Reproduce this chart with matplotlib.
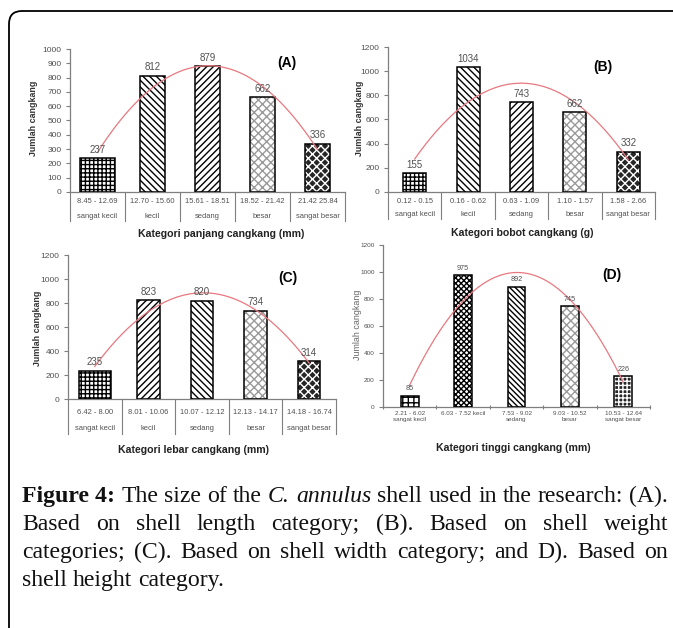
import numpy as np
import matplotlib
matplotlib.use("Agg")
import matplotlib.pyplot as plt
from matplotlib.path import Path
from matplotlib.patches import PathPatch

# ---------------- data ----------------
categories = ["sangat kecil", "kecil", "sedang", "besar", "sangat besar"]

ranges_A = ["8.45 - 12.69", "12.70 - 15.60", "15.61 - 18.51", "18.52 - 21.42", "21.42 25.84"]
counts_A = [237, 812, 879, 662, 336]

ranges_B = ["0.12 - 0.15", "0.16 - 0.62", "0.63 - 1.09", "1.10 - 1.57", "1.58 - 2.66"]
counts_B = [155, 1034, 743, 662, 332]

ranges_C = ["6.42 - 8.00", "8.01 - 10.06", "10.07 - 12.12", "12.13 - 14.17", "14.18 - 16.74"]
counts_C = [235, 823, 820, 734, 314]

ranges_D = ["2.21 - 6.02", "6.03 - 7.52", "7.53 - 9.02", "9.03 - 10.52", "10.53 - 12.64"]
counts_D = [85, 975, 892, 745, 226]

xlabel_A = "Kategori panjang cangkang (mm)"
xlabel_B = "Kategori bobot cangkang (g)"
xlabel_C = "Kategori lebar cangkang (mm)"
xlabel_D = "Kategori tinggi cangkang (mm)"
ylabel = "Jumlah cangkang"

caption_lines = [
    [("Figure 4:", "b"), ("The", "n"), ("size", "n"), ("of", "n"), ("the", "n"), ("C.", "i"),
     ("annulus", "i"), ("shell", "n"), ("used", "n"), ("in", "n"), ("the", "n"),
     ("research:", "n"), ("(A).", "n")],
    [(w, "n") for w in "Based on shell length category; (B). Based on shell weight".split()],
    [(w, "n") for w in "categories; (C). Based on shell width category; and D). Based on".split()],
    [(w, "n") for w in "shell height category.".split()],
]

# ---------------- layout ----------------
W, H = 673, 628
fig = plt.figure(figsize=(W / 100, H / 100), dpi=100)
fig.patch.set_facecolor("white")
plt.rcParams["font.family"] = ["Liberation Sans", "DejaVu Sans"]
plt.rcParams["hatch.linewidth"] = 1.0


def px_rect(l, t, r, b):
    return [l / W, 1 - b / H, (r - l) / W, (b - t) / H]


def fx(x):
    return x / W


def fy(y):
    return 1 - y / H


AX_GRAY = "#7f7f7f"
TXT_GRAY = "#505050"
CURVE = "#e8787f"


def hatched_bar(ax, x, h, w, hatch, hcolor, face):
    ax.bar(x, h, w, color=face, edgecolor=hcolor, hatch=hatch, linewidth=0, zorder=2)
    ax.bar(x, h, w, fill=False, edgecolor="black", linewidth=1.1, zorder=3)


def panel(rect_px, counts, ranges, ymax, ystep, widths, hatches, hcolors, faces,
          title, title_xy, xlabel, xlabel_xy, ylabel_xy, table=True,
          row_off=(10, 25), line_off=29, tick_fs=6, val_fs=7, ylab_bold=True):
    l, t, r, b = rect_px
    ax = fig.add_axes(px_rect(l, t, r, b))
    hpx = b - t
    n = len(counts)
    x = np.arange(n)
    for i in range(n):
        hatched_bar(ax, x[i], counts[i], widths[i], hatches[i], hcolors[i], faces[i])
        ax.annotate(str(counts[i]), (x[i], counts[i]), xytext=(0, 2.5),
                    textcoords="offset points", ha="center", va="bottom",
                    fontsize=val_fs, color=TXT_GRAY, zorder=5)
    # polynomial trend line (order 2), as in the source chart
    coef = np.polyfit(x, counts, 2)
    xs = np.linspace(0, n - 1, 200)
    ax.plot(xs, np.polyval(coef, xs), color=CURVE, lw=0.9, zorder=4)

    ax.set_xlim(-0.5, n - 0.5)
    ax.set_ylim(0, ymax)
    ax.set_yticks(np.arange(0, ymax + 1, ystep))
    for s in ["top", "right"]:
        ax.spines[s].set_visible(False)
    for s in ["left", "bottom"]:
        ax.spines[s].set_color(AX_GRAY)
        ax.spines[s].set_linewidth(0.9)
    ax.tick_params(axis="y", length=3, width=0.8, color=AX_GRAY,
                   labelsize=tick_fs, labelcolor=TXT_GRAY, pad=3)
    ax.set_facecolor("none")

    tr = ax.get_xaxis_transform()
    if table:
        ax.set_xticks([])
        for i in range(n):
            ax.text(x[i], -row_off[0] / hpx, ranges[i], transform=tr, ha="center",
                    va="center", fontsize=5.4, color=TXT_GRAY, clip_on=False)
            ax.text(x[i], -row_off[1] / hpx, categories[i], transform=tr, ha="center",
                    va="center", fontsize=5.4, color=TXT_GRAY, clip_on=False)
        for xb in np.arange(-0.5, n, 1.0):
            ax.plot([xb, xb], [0, -line_off / hpx], transform=tr, color=AX_GRAY,
                    lw=0.8, clip_on=False)
    else:
        ax.set_xticks(np.arange(-0.5, n, 1.0))
        ax.set_xticklabels([])
        ax.tick_params(axis="x", length=3, width=0.8, color=AX_GRAY, direction="inout")
        labs = [ranges[0] + "\n" + categories[0], ranges[1] + " " + categories[1]] + \
               [ranges[i] + "\n" + categories[i] for i in range(2, n)]
        for i in range(n):
            ax.text(x[i], -4 / hpx, labs[i], transform=tr, ha="center", va="top",
                    fontsize=4.5, color=TXT_GRAY, clip_on=False, linespacing=1.3)

    fig.text(fx(title_xy[0]), fy(title_xy[1]), title, ha="center", va="center",
             fontsize=10, fontweight="bold")
    fig.text(fx(xlabel_xy[0]), fy(xlabel_xy[1]), xlabel, ha="center", va="center",
             fontsize=7.6, fontweight="bold", color="#222222")
    fig.text(fx(ylabel_xy[0]), fy(ylabel_xy[1]), ylabel, ha="center", va="center",
             rotation=90, fontsize=6.4, fontweight="bold" if ylab_bold else "normal",
             color="#333333" if ylab_bold else "#666666")
    return ax


std_hatch = ["++++", "\\\\\\\\\\", "/////", "xxxx", "xxxx"]
std_hcol = ["black", "black", "black", "#9a9a9a", "white"]
std_face = ["white", "white", "white", "white", "#262626"]

panel((70, 49, 345, 192), counts_A, ranges_A, 1000, 100,
      [0.64, 0.44, 0.44, 0.44, 0.44], std_hatch, std_hcol, std_face,
      "(A)", (287, 63), xlabel_A, (221, 234), (33, 118))

panel((388, 47, 655, 192), counts_B, ranges_B, 1200, 200,
      [0.43] * 5, std_hatch, std_hcol, std_face,
      "(B)", (603, 67), xlabel_B, (522, 233), (360, 118), row_off=(10, 23), line_off=27)

hatch_C = ["++++", "/////", "\\\\\\\\\\", "xxxx", "xxxx"]
panel((68, 255, 336, 399), counts_C, ranges_C, 1200, 200,
      [0.6, 0.42, 0.42, 0.42, 0.42], hatch_C, std_hcol, std_face,
      "(C)", (288, 278), xlabel_C, (193, 450), (37, 328), row_off=(13, 29), line_off=35)

hatch_D = ["+++", "xxxxxx", "\\\\\\\\\\\\", "xxxx", "++++"]
hcol_D = ["black", "black", "black", "#9a9a9a", "white"]
face_D = ["white", "white", "white", "white", "#262626"]
panel((383, 245, 650, 407), counts_D, ranges_D, 1200, 200,
      [0.33] * 5, hatch_D, hcol_D, face_D,
      "(D)", (612, 275), xlabel_D, (513, 448), (357, 325), table=False,
      tick_fs=4.6, val_fs=5.2, ylab_bold=False)

# ---------------- border ----------------
verts = [(fx(9), fy(628)), (fx(9), fy(24)), (fx(9), fy(11)), (fx(22), fy(11)), (fx(673), fy(11))]
codes = [Path.MOVETO, Path.LINETO, Path.CURVE3, Path.CURVE3, Path.LINETO]
fig.add_artist(PathPatch(Path(verts, codes), fill=False, lw=1.3, edgecolor="black",
                         transform=fig.transFigure))

# ---------------- caption (justified) ----------------
SERIF = ["Liberation Serif", "DejaVu Serif"]
renderer = fig.canvas.get_renderer()


def make(word, style, fs, x=0, y=0):
    kw = dict(fontsize=fs, family=SERIF, va="baseline", ha="left", color="#111111")
    if style == "b":
        kw["fontweight"] = "bold"
    if style == "i":
        kw["fontstyle"] = "italic"
    return fig.text(fx(x), fy(y), word, **kw)


def width(t):
    return t.get_window_extent(renderer).width


def line_natural(line, fs):
    ws = []
    for w, s in line:
        t = make(w, s, fs)
        ws.append(width(t))
        t.remove()
    a = make("x x", "n", fs); b = make("xx", "n", fs)
    sp = width(a) - width(b)
    a.remove(); b.remove()
    return ws, sp


X0, X1 = 22, 668
ws0, sp0 = line_natural(caption_lines[0], 12)
nat = sum(ws0) + sp0 * (len(ws0) - 1)
FS = 12 * (X1 - X0) / nat * 0.995

baselines = [502, 530, 558, 586]
for li, line in enumerate(caption_lines):
    ws, sp = line_natural(line, FS)
    if li < len(caption_lines) - 1:
        gap = (X1 - X0 - sum(ws)) / (len(ws) - 1)
    else:
        gap = sp
    xc = X0
    for (w, s), wd in zip(line, ws):
        make(w, s, FS, xc, baselines[li])
        xc += wd + gap

fig.savefig("out.png", dpi=100, facecolor="white")
